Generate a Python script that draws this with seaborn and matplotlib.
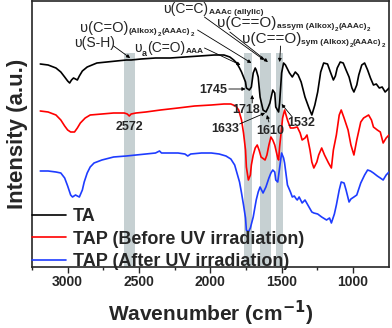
import matplotlib
matplotlib.use("Agg")
import matplotlib.pyplot as plt
import seaborn as sns
import pandas as pd

# ---------------- data ----------------
SERIES = ["TA", "TAP (Before UV irradiation)", "TAP (After UV irradiation)"]
COLORS = ["#000000", "#ff0000", "#1e3cff"]

WN_TA = [3192, 3137, 3082, 3048, 3021, 3000, 2986, 2973, 2959, 2945, 2932, 2918, 2897, 2863,
         2795, 2726, 2658, 2589, 2555, 2486, 2384, 2281, 2178, 2075, 1973, 1904, 1863, 1836,
         1815, 1795, 1781, 1767, 1753, 1747, 1726, 1712, 1699, 1685, 1678, 1664, 1651, 1630,
         1610, 1596, 1582, 1562, 1548, 1541, 1521, 1514, 1500, 1486, 1473, 1445, 1425, 1404,
         1384, 1363, 1336, 1308, 1288, 1267, 1247, 1226, 1205, 1178, 1158, 1137, 1123, 1110,
         1089, 1068, 1048, 1027, 1007, 993, 973, 959, 938, 918, 897, 877, 856, 836, 815, 795,
         774, 760, 747]
I_TA = [203, 202, 199, 195, 190, 186, 184, 187, 189, 188, 187, 191, 196, 200,
        204, 205, 206, 207, 207, 208, 209, 209, 210, 211, 212, 212, 210, 207,
        204, 199, 195, 190, 185, 179, 177, 180, 194, 199, 197, 190, 170, 157,
        155, 159, 164, 177, 174, 160, 155, 164, 194, 204, 202, 194, 190, 195,
        192, 185, 170, 159, 152, 162, 175, 195, 204, 203, 195, 187, 191, 199,
        205, 204, 197, 190, 179, 175, 182, 192, 202, 204, 197, 189, 182, 183, 179, 180,
        175, 177, 179]

WN_BEFORE = [3192, 3137, 3082, 3048, 3021, 3000, 2979, 2952, 2932, 2911, 2877, 2842, 2760,
             2678, 2603, 2582, 2568, 2555, 2521, 2452, 2349, 2226, 2110, 1993, 1904, 1856,
             1822, 1801, 1781, 1767, 1753, 1747, 1733, 1719, 1712, 1699, 1685, 1671, 1658,
             1644, 1616, 1603, 1589, 1575, 1562, 1548, 1527, 1521, 1514, 1500, 1493, 1479,
             1459, 1438, 1418, 1390, 1370, 1356, 1336, 1322, 1301, 1288, 1274, 1253, 1240,
             1219, 1199, 1171, 1151, 1137, 1116, 1096, 1082, 1062, 1034, 1014, 993, 973, 945,
             925, 890, 870, 856, 829, 808, 788, 767, 747]
I_BEFORE = [156, 155, 152, 147, 141, 137, 135, 135, 139, 144, 149, 152, 153,
            154, 154, 153, 151, 153, 154, 155, 157, 159, 161, 162, 163, 163,
            161, 157, 147, 134, 117, 100, 87, 92, 102, 112, 119, 122, 117,
            110, 107, 112, 122, 130, 127, 122, 109, 107, 120, 139, 149, 157,
            147, 139, 139, 140, 134, 127, 129, 132, 117, 105, 99, 105, 112,
            119, 112, 104, 99, 117, 132, 152, 157, 149, 137, 122, 112, 127, 145,
            149, 152, 147, 140, 137, 135, 124, 129, 132]

WN_AFTER = [3192, 3137, 3082, 3048, 3021, 3000, 2979, 2966, 2945, 2932, 2918, 2897, 2884,
            2863, 2842, 2815, 2760, 2678, 2589, 2521, 2452, 2384, 2356, 2342, 2281, 2226,
            2178, 2158, 2137, 2062, 1993, 1938, 1890, 1856, 1829, 1815, 1795, 1781, 1767,
            1753, 1747, 1733, 1719, 1699, 1678, 1664, 1651, 1630, 1610, 1589, 1575, 1562,
            1548, 1541, 1527, 1514, 1500, 1486, 1479, 1459, 1438, 1425, 1411, 1397, 1390,
            1377, 1356, 1336, 1308, 1288, 1274, 1247, 1219, 1185, 1164, 1151, 1130, 1116,
            1096, 1082, 1062, 1048, 1027, 1014, 993, 973, 945, 918, 897, 877, 856, 829, 808,
            788, 767, 747]
I_AFTER = [96, 96, 95, 94, 89, 81, 72, 70, 72, 71, 70, 77, 85,
           94, 100, 104, 107, 110, 111, 112, 113, 114, 116, 114, 114, 114,
           113, 111, 113, 114, 114, 113, 111, 108, 102, 95, 85, 74, 62,
           49, 37, 35, 39, 50, 67, 75, 80, 74, 80, 89, 94, 97,
           95, 87, 85, 99, 114, 109, 104, 82, 75, 70, 71, 68, 67,
           70, 64, 67, 60, 55, 54, 53, 50, 47, 49, 44, 53, 62,
           77, 85, 84, 77, 65, 68, 70, 72, 84, 92, 97, 96, 94, 91, 89,
           87, 92, 95]

BANDS = [(2603, 2527), (1767, 1705), (1651, 1575), (1541, 1493)]
PEAK_LABELS = ["1745", "1718", "1633", "1610", "1532", "2572"]
XTICKS = [3000, 2500, 2000, 1500, 1000]

# ---------------- figure ----------------
sns.set_style("ticks")
plt.rcParams["font.family"] = ["Liberation Sans", "DejaVu Sans"]
plt.rcParams["axes.linewidth"] = 1.2

fig = plt.figure(figsize=(3.92, 3.28), dpi=100)
ax = fig.add_axes([32 / 392, 61 / 328, 357 / 392, 266 / 328])

df = pd.concat([
    pd.DataFrame({"wn": WN_TA, "I": I_TA, "sample": SERIES[0]}),
    pd.DataFrame({"wn": WN_BEFORE, "I": I_BEFORE, "sample": SERIES[1]}),
    pd.DataFrame({"wn": WN_AFTER, "I": I_AFTER, "sample": SERIES[2]}),
])

for lo, hi in BANDS:
    ax.axvspan(hi, lo, ymin=0, ymax=214 / 266, color="#c6d0d2", lw=0, zorder=0)

sns.lineplot(data=df, x="wn", y="I", hue="sample", palette=COLORS, hue_order=SERIES,
             estimator=None, sort=True, lw=1.2, ax=ax, zorder=3)

ax.set_xlim(3192, 747)
ax.set_ylim(0, 266)
ax.set_yticks([])
ax.set_xticks(XTICKS)
ax.set_xticks([3250, 2750, 2250, 1750, 1250], minor=True)
ax.tick_params(axis="x", which="major", direction="out", length=4, width=1, labelsize=10, pad=2)
ax.tick_params(axis="x", which="minor", direction="out", length=2.5, width=1)
for t in ax.get_xticklabels():
    t.set_fontweight("bold")
ax.set_xlabel("Wavenumber (cm$^{\\mathbf{-1}}$)", fontsize=15, fontweight="bold", labelpad=7)
ax.set_ylabel("Intensity (a.u.)", fontsize=16, fontweight="bold", labelpad=3)

leg = ax.legend(loc="lower left", bbox_to_anchor=(0.0, -0.012), frameon=False,
                handlelength=1.9, handletextpad=0.35, labelspacing=0.3,
                borderpad=0, borderaxespad=0, prop={"size": 13, "weight": "bold"})
for h in leg.get_lines():
    h.set_linewidth(1.2)


def rich(x, y, parts):
    s0, fs0, fw0 = parts[0]
    base = ax.text(x, y, s0, fontsize=fs0, fontweight=fw0, ha="left", va="baseline", zorder=5)
    prev = base
    for s, fs, fw, dy in parts[1:]:
        prev = ax.annotate(s, xy=(1, 0), xycoords=(prev, base), xytext=(0.2, dy),
                           textcoords="offset points", fontsize=fs, fontweight=fw,
                           ha="left", va="bottom", zorder=5)


def arrow(start, end):
    ax.annotate("", xy=end, xytext=start,
                arrowprops=dict(arrowstyle="-|>", color="black", lw=0.6,
                                shrinkA=0, shrinkB=0, mutation_scale=5), zorder=6)


rich(2952, 220, [("υ(S-H)", 10, "normal")])
rich(2534, 215, [("υ", 10, "normal"), ("a", 6.5, "bold", -2.5),
                 ("(C=O)", 10, "normal", 0), ("AAA", 6, "bold", 0)])
rich(2911, 235, [("υ(C=O)", 10.5, "normal"), ("(Alkox)", 6, "bold", 0),
                 ("2", 4.5, "bold", -1.5), ("(AAAc)", 6, "bold", 0),
                 ("2", 4.5, "bold", -1.5)])
rich(2329, 254, [("υ(C=C)", 10, "normal"), ("AAAc (allylic)", 6, "bold", 0)])
rich(1952, 240, [("υ(C==O)", 11, "normal"), ("assym (Alkox)", 6, "bold", 0),
                 ("2", 4.5, "bold", -1.5), ("(AAAc)", 6, "bold", 0),
                 ("2", 4.5, "bold", -1.5)])
rich(1781, 224, [("υ(C==O)", 11, "normal"), ("sym (Alkox)", 6, "bold", 0),
                 ("2", 4.5, "bold", -1.5), ("(AAAc)", 6, "bold", 0),
                 ("2", 4.5, "bold", -1.5)])

arrow((2678, 221), (2562, 209))
arrow((2041, 219), (1788, 202))
arrow((2089, 237), (1712, 204))
arrow((2041, 250), (1623, 207))
arrow((1863, 235), (1596, 205))
arrow((1507, 221), (1514, 205))

label_pos = [(1979, 177), (1747, 157), (1897, 138), (1582, 136), (1363, 144), (2568, 140)]
for txt, (x, y) in zip(PEAK_LABELS, label_pos):
    ax.text(x, y, txt, ha="center", va="center", fontsize=9, fontweight="bold", zorder=5)

arrow((1870, 178), (1753, 178))
arrow((1706, 164), (1706, 172))
arrow((1795, 143), (1616, 154))
arrow((1589, 145), (1603, 152))
arrow((1425, 150), (1500, 163))

fig.savefig("out.png", dpi=100)
